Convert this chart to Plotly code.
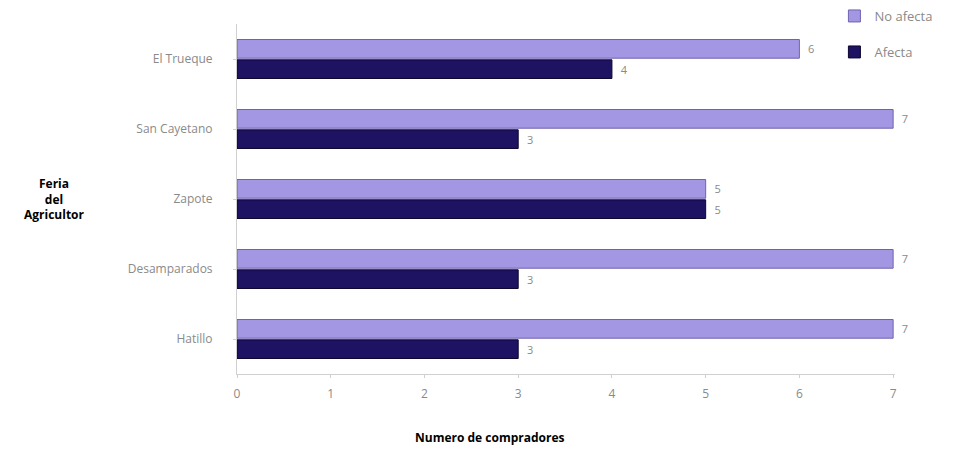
import plotly.graph_objects as go

# Farmer's markets, bottom to top
ferias = ["Hatillo", "Desamparados", "Zapote", "San Cayetano", "El Trueque"]
afecta = [3, 3, 5, 3, 4]
no_afecta = [7, 7, 5, 7, 6]
x_ticks = [0, 1, 2, 3, 4, 5, 6, 7]

label_font = dict(color="#8a8a8a", size=11, family="Open Sans")
legend_font = dict(size=13, color="#8a8a8a")

fig = go.Figure()
fig.add_trace(go.Bar(
    y=ferias, x=afecta, name="Afecta", orientation="h", legend="legend2",
    marker=dict(color="#1e1262", line=dict(color="#0c0630", width=1)),
    text=afecta, texttemplate="  %{x}", textposition="outside", textfont=label_font,
    cliponaxis=False,
))
fig.add_trace(go.Bar(
    y=ferias, x=no_afecta, name="No afecta", orientation="h", legend="legend",
    marker=dict(color="#a397e3", line=dict(color="#6f63b0", width=1)),
    text=no_afecta, texttemplate="  %{x}", textposition="outside", textfont=label_font,
    cliponaxis=False,
))

fig.update_layout(
    width=968, height=449,
    margin=dict(l=237, r=73, t=24, b=75, autoexpand=False),
    paper_bgcolor="white", plot_bgcolor="white",
    barmode="group", bargap=0.42, bargroupgap=0.08,
    font=dict(family="Open Sans", color="#8a8a8a", size=12),
    showlegend=True,
    legend=dict(
        xref="container", yref="container",
        x=0.862, y=1 - 16 / 449, xanchor="left", yanchor="middle",
        font=legend_font, itemwidth=30, bgcolor="rgba(0,0,0,0)",
    ),
    legend2=dict(
        xref="container", yref="container",
        x=0.862, y=1 - 52 / 449, xanchor="left", yanchor="middle",
        font=legend_font, itemwidth=30, bgcolor="rgba(0,0,0,0)",
    ),
    xaxis=dict(
        range=[0, 7.02], tickvals=x_ticks, showgrid=False, zeroline=False,
        showline=True, linecolor="#d0d0d0", ticks="outside", tickcolor="#d0d0d0",
        ticklen=3, ticklabelstandoff=6, tickfont=dict(size=12, color="#8a8a8a"),
    ),
    yaxis=dict(
        showgrid=False, showline=True, linecolor="#d0d0d0", ticks="outside",
        tickcolor="#d0d0d0", ticklen=3, ticklabelstandoff=18,
        tickfont=dict(size=12, color="#8a8a8a"),
    ),
    annotations=[
        dict(
            text="<b>Feria<br>del<br>Agricultor</b>", x=-0.277, y=0.5,
            xref="paper", yref="paper", xanchor="center", showarrow=False,
            font=dict(size=12, color="black"),
        ),
        dict(
            text="<b>Numero de compradores</b>", x=0.3845, y=-0.18,
            xref="paper", yref="paper", xanchor="center", yanchor="middle",
            showarrow=False, font=dict(size=12, color="black"),
        ),
    ],
)

fig.write_html("out.html")
